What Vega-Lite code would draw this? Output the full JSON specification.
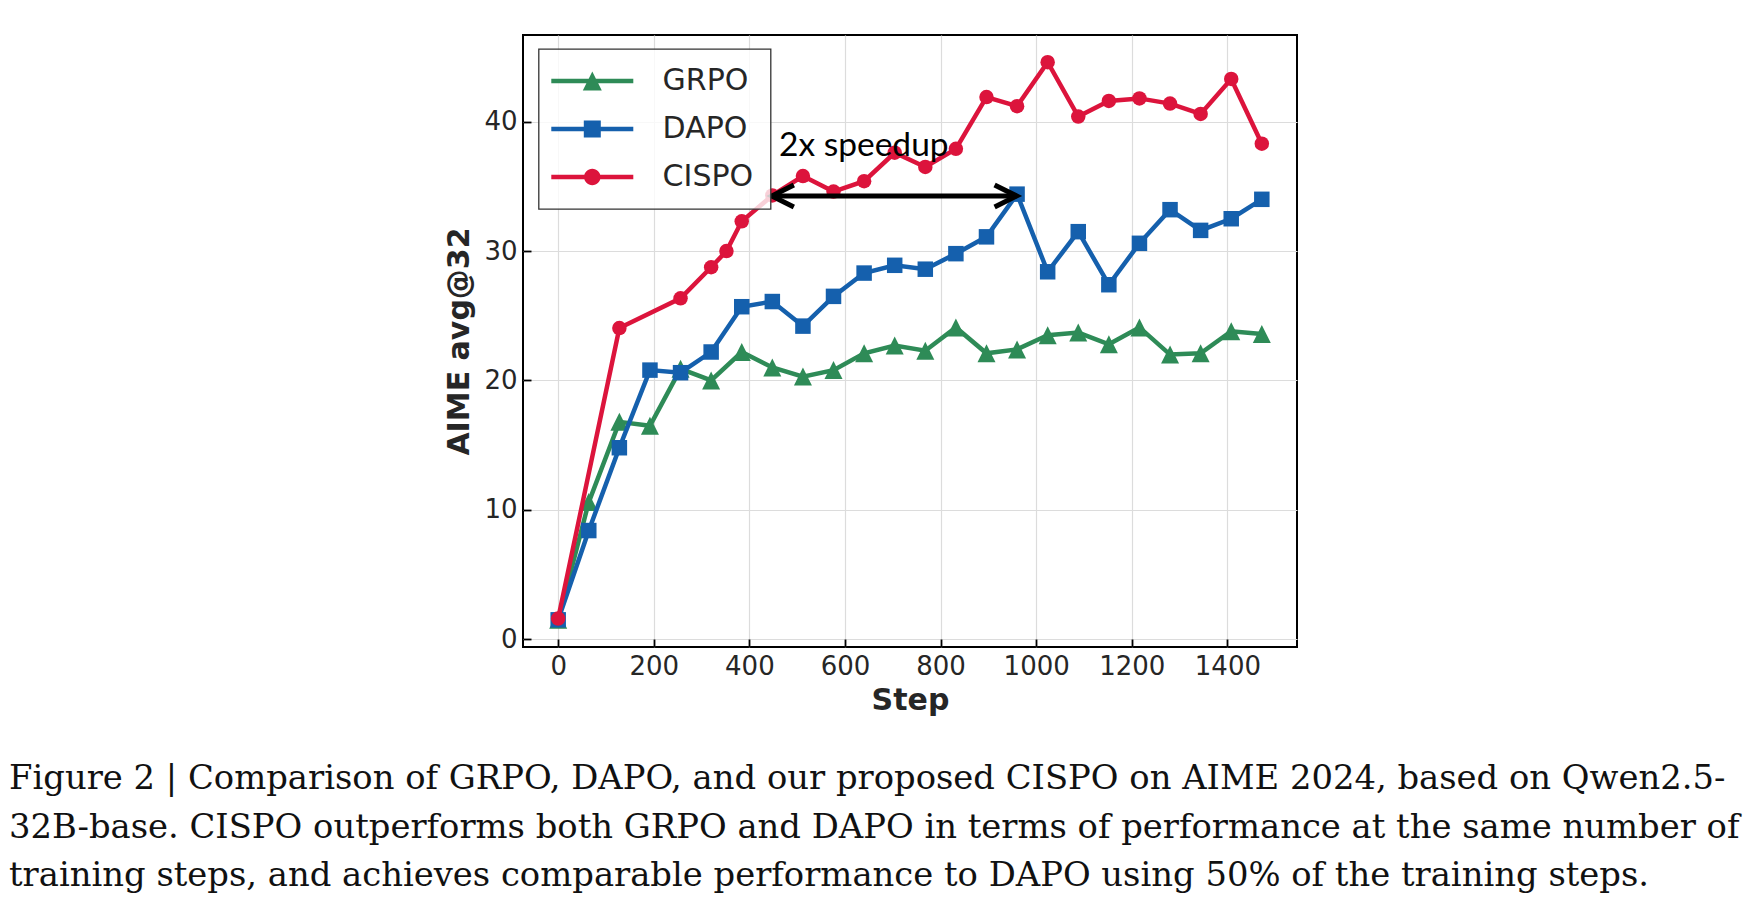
{
  "$schema": "https://vega.github.io/schema/vega-lite/v6.json",
  "autosize": {"type": "none"},
  "padding": {"left": 523, "top": 35, "right": 447, "bottom": 267},
  "width": 774,
  "height": 612,
  "background": "white",
  "config": {
    "font": "DejaVu Sans",
    "view": {"stroke": "black", "strokeWidth": 2},
    "axis": {
      "grid": true,
      "gridColor": "#dcdcdc",
      "gridWidth": 1.2,
      "domain": false,
      "tickSize": -8,
      "tickColor": "#000000",
      "tickWidth": 1.8,
      "labelFont": "DejaVu Sans",
      "labelFontSize": 26,
      "labelColor": "#262626",
      "titleFont": "DejaVu Sans",
      "titleFontSize": 30,
      "titleFontWeight": "bold",
      "titleColor": "#262626"
    },
    "legend": {
      "strokeWidth": 1.3
    }
  },
  "title": {
    "text": [
      "Figure 2 | Comparison of GRPO, DAPO, and our proposed CISPO on AIME 2024, based on Qwen2.5-",
      "32B-base. CISPO outperforms both GRPO and DAPO in terms of performance at the same number of",
      "training steps, and achieves comparable performance to DAPO using 50% of the training steps."
    ],
    "orient": "bottom",
    "anchor": "start",
    "frame": "group",
    "align": "left",
    "baseline": "alphabetic",
    "font": "DejaVu Serif",
    "fontSize": 33.8,
    "fontWeight": "normal",
    "color": "#111111",
    "lineHeight": 48.5,
    "offset": 74,
    "dx": -514
  },
  "datasets": {
    "runs": [
      {"series": "GRPO", "step": 0, "value": 1.5},
      {"series": "GRPO", "step": 64, "value": 10.6},
      {"series": "GRPO", "step": 128, "value": 16.8},
      {"series": "GRPO", "step": 192, "value": 16.5},
      {"series": "GRPO", "step": 256, "value": 20.9},
      {"series": "GRPO", "step": 320, "value": 20.0},
      {"series": "GRPO", "step": 384, "value": 22.2},
      {"series": "GRPO", "step": 448, "value": 21.0},
      {"series": "GRPO", "step": 512, "value": 20.3},
      {"series": "GRPO", "step": 576, "value": 20.8},
      {"series": "GRPO", "step": 640, "value": 22.1},
      {"series": "GRPO", "step": 704, "value": 22.7},
      {"series": "GRPO", "step": 768, "value": 22.3},
      {"series": "GRPO", "step": 832, "value": 24.1},
      {"series": "GRPO", "step": 896, "value": 22.1},
      {"series": "GRPO", "step": 960, "value": 22.4},
      {"series": "GRPO", "step": 1024, "value": 23.5},
      {"series": "GRPO", "step": 1088, "value": 23.7},
      {"series": "GRPO", "step": 1152, "value": 22.8},
      {"series": "GRPO", "step": 1216, "value": 24.1},
      {"series": "GRPO", "step": 1280, "value": 22.0},
      {"series": "GRPO", "step": 1344, "value": 22.1},
      {"series": "GRPO", "step": 1408, "value": 23.8},
      {"series": "GRPO", "step": 1472, "value": 23.6},
      {"series": "DAPO", "step": 0, "value": 1.5},
      {"series": "DAPO", "step": 64, "value": 8.4},
      {"series": "DAPO", "step": 128, "value": 14.8},
      {"series": "DAPO", "step": 192, "value": 20.8},
      {"series": "DAPO", "step": 256, "value": 20.6},
      {"series": "DAPO", "step": 320, "value": 22.2},
      {"series": "DAPO", "step": 384, "value": 25.7},
      {"series": "DAPO", "step": 448, "value": 26.1},
      {"series": "DAPO", "step": 512, "value": 24.2},
      {"series": "DAPO", "step": 576, "value": 26.5},
      {"series": "DAPO", "step": 640, "value": 28.3},
      {"series": "DAPO", "step": 704, "value": 28.9},
      {"series": "DAPO", "step": 768, "value": 28.6},
      {"series": "DAPO", "step": 832, "value": 29.8},
      {"series": "DAPO", "step": 896, "value": 31.1},
      {"series": "DAPO", "step": 960, "value": 34.4},
      {"series": "DAPO", "step": 1024, "value": 28.4},
      {"series": "DAPO", "step": 1088, "value": 31.5},
      {"series": "DAPO", "step": 1152, "value": 27.4},
      {"series": "DAPO", "step": 1216, "value": 30.6},
      {"series": "DAPO", "step": 1280, "value": 33.2},
      {"series": "DAPO", "step": 1344, "value": 31.6},
      {"series": "DAPO", "step": 1408, "value": 32.5},
      {"series": "DAPO", "step": 1472, "value": 34.0},
      {"series": "CISPO", "step": 0, "value": 1.6},
      {"series": "CISPO", "step": 128, "value": 24.05},
      {"series": "CISPO", "step": 256, "value": 26.35},
      {"series": "CISPO", "step": 320, "value": 28.75},
      {"series": "CISPO", "step": 352, "value": 30.0},
      {"series": "CISPO", "step": 384, "value": 32.3},
      {"series": "CISPO", "step": 448, "value": 34.3},
      {"series": "CISPO", "step": 512, "value": 35.8},
      {"series": "CISPO", "step": 576, "value": 34.6},
      {"series": "CISPO", "step": 640, "value": 35.4},
      {"series": "CISPO", "step": 704, "value": 37.6},
      {"series": "CISPO", "step": 768, "value": 36.5},
      {"series": "CISPO", "step": 832, "value": 37.9},
      {"series": "CISPO", "step": 896, "value": 41.9},
      {"series": "CISPO", "step": 960, "value": 41.2},
      {"series": "CISPO", "step": 1024, "value": 44.6},
      {"series": "CISPO", "step": 1088, "value": 40.4},
      {"series": "CISPO", "step": 1152, "value": 41.6},
      {"series": "CISPO", "step": 1216, "value": 41.8},
      {"series": "CISPO", "step": 1280, "value": 41.4},
      {"series": "CISPO", "step": 1344, "value": 40.6},
      {"series": "CISPO", "step": 1408, "value": 43.3},
      {"series": "CISPO", "step": 1472, "value": 38.3}
    ],
    "arrow": [
      {"end": "left", "step": 447, "value": 34.26},
      {"end": "right", "step": 959, "value": 34.26}
    ],
    "note": [
      {"step": 462, "value": 37.35, "label": "2x speedup"}
    ]
  },
  "data": {"name": "runs"},
  "encoding": {
    "x": {
      "field": "step", "type": "quantitative", "title": "Step",
      "scale": {"domain": [-73.6, 1545.6], "nice": false, "zero": false},
      "axis": {"values": [0, 200, 400, 600, 800, 1000, 1200, 1400], "format": "d", "labelPadding": 14, "titlePadding": 6}
    },
    "y": {
      "field": "value", "type": "quantitative", "title": "AIME avg@32",
      "scale": {"domain": [-0.6, 46.7], "nice": false, "zero": false},
      "axis": {"values": [0, 10, 20, 30, 40], "format": "d", "labelPadding": 14, "titlePadding": 9}
    }
  },
  "layer": [
    {
      "transform": [{"filter": "datum.step === 0"}],
      "mark": {"type": "point", "filled": true, "opacity": 0},
      "encoding": {
        "color": {
          "field": "series", "type": "nominal",
          "scale": {"domain": ["GRPO", "DAPO", "CISPO"], "range": ["#2e8b57", "#1560ad", "#dc143c"]},
          "legend": {
            "title": null,
            "orient": "none",
            "legendX": 15.6,
            "legendY": 14,
            "direction": "vertical",
            "symbolSize": 100,
            "symbolStrokeWidth": 0,
            "symbolOpacity": 1,
            "symbolOffset": 0,
            "labelOffset": 77,
            "labelFont": "DejaVu Sans",
            "labelFontSize": 30,
            "labelColor": "#262626",
            "labelLimit": 300,
            "padding": 17,
            "rowPadding": 18,
            "fillColor": "rgba(255,255,255,0.8)",
            "strokeColor": "#333333",
            "cornerRadius": 0,
            "encode": {"symbols": {"update": {"opacity": {"value": 1}, "fillOpacity": {"value": 1}}}}
          }
        },
        "shape": {
          "field": "series", "type": "nominal",
          "scale": {
            "domain": ["GRPO", "DAPO", "CISPO"],
            "range": [
              "M-3.86,-0.45L12.54,-0.45L12.54,0.45L-3.86,0.45ZM4.34,-1.9L6.24,1.9L2.44,1.9Z",
              "M-3.86,-0.45L12.54,-0.45L12.54,0.45L-3.86,0.45ZM2.64,-1.7L6.04,-1.7L6.04,1.7L2.64,1.7Z",
              "M-3.86,-0.45L12.54,-0.45L12.54,0.45L-3.86,0.45ZM5.99,0A1.65,1.65,0,1,1,2.69,0A1.65,1.65,0,1,1,5.99,0Z"
            ]
          }
        }
      }
    },
    {
      "transform": [{"filter": "datum.series === 'GRPO'"}],
      "mark": {"type": "line", "color": "#2e8b57", "strokeWidth": 4.5,
        "point": {"filled": true, "shape": "M0,-1L1,1L-1,1Z", "size": 324, "color": "#2e8b57", "opacity": 1}}
    },
    {
      "transform": [{"filter": "datum.series === 'DAPO'"}],
      "mark": {"type": "line", "color": "#1560ad", "strokeWidth": 4.5,
        "point": {"filled": true, "shape": "square", "size": 240, "color": "#1560ad", "opacity": 1}}
    },
    {
      "transform": [{"filter": "datum.series === 'CISPO'"}],
      "mark": {"type": "line", "color": "#dc143c", "strokeWidth": 4.5,
        "point": {"filled": true, "shape": "circle", "size": 210, "color": "#dc143c", "opacity": 1}}
    },
    {
      "data": {"name": "arrow"},
      "mark": {"type": "line", "color": "#000000", "strokeWidth": 5}
    },
    {
      "data": {"name": "arrow"},
      "transform": [{"filter": "datum.end === 'right'"}],
      "mark": {"type": "point", "shape": "M-2,-1L0,0L-2,1", "size": 484, "filled": false, "color": "#000000", "strokeWidth": 5, "opacity": 1, "strokeJoin": "miter"}
    },
    {
      "data": {"name": "arrow"},
      "transform": [{"filter": "datum.end === 'left'"}],
      "mark": {"type": "point", "shape": "M-2,-1L0,0L-2,1", "size": 484, "angle": 180, "filled": false, "color": "#000000", "strokeWidth": 5, "opacity": 1, "strokeJoin": "miter"}
    },
    {
      "data": {"name": "note"},
      "mark": {"type": "text", "align": "left", "baseline": "alphabetic", "font": "Lato", "fontSize": 33.5, "color": "#000000"},
      "encoding": {"text": {"field": "label"}}
    }
  ]
}
